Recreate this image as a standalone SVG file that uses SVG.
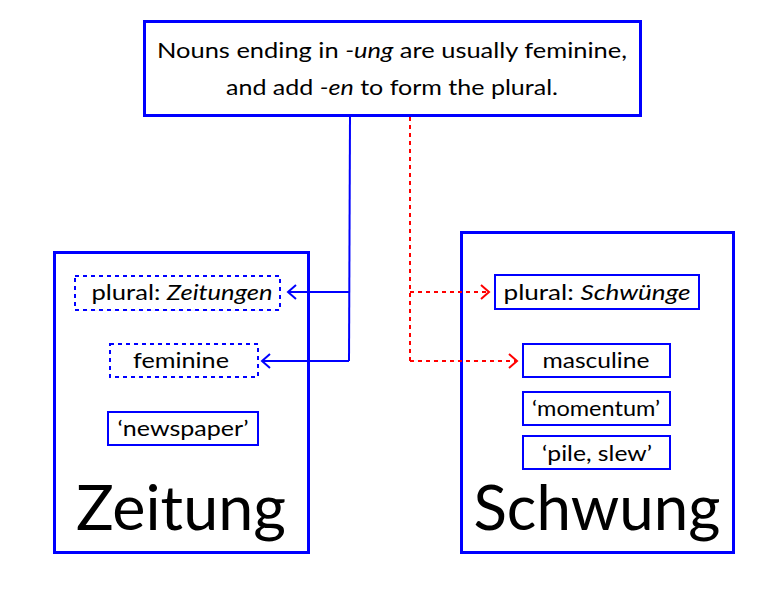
<svg xmlns="http://www.w3.org/2000/svg" width="772" height="605" viewBox="0 0 772 605">
<defs>
<style>
text{font-family:"Lato","Noto Sans",sans-serif;fill:#000;text-anchor:middle}
.big{stroke:#0000ff;stroke-width:3;fill:none}
.lab{stroke:#0000ff;stroke-width:2;fill:#fff}
.dash{stroke:#0000ff;stroke-width:2;fill:#fff;stroke-dasharray:4 4}
.s{font-size:22px}
.h{font-size:62px}
.blue{stroke:#0000ff;stroke-width:2;fill:none}
.red{stroke:#ff0000;stroke-width:2;fill:none;stroke-dasharray:4 4}
</style>
<marker id="ab" markerWidth="12" markerHeight="18" refX="10" refY="8" orient="auto" markerUnits="userSpaceOnUse"><path d="M2 1 L10 8 L2 15" fill="none" stroke="#0000ff" stroke-width="2"/></marker>
<marker id="ar" markerWidth="12" markerHeight="18" refX="10" refY="8" orient="auto" markerUnits="userSpaceOnUse"><path d="M2 1 L10 8 L2 15" fill="none" stroke="#ff0000" stroke-width="2"/></marker>
</defs>
<rect width="772" height="605" fill="#fff"/>
<g id="top">
<rect class="big" x="144.5" y="21.5" width="496" height="94" fill="#fff"/>
<text class="s" x="392" y="58" textLength="470" lengthAdjust="spacingAndGlyphs">Nouns ending in <tspan font-style="italic">-ung</tspan> are usually feminine,</text>
<text class="s" x="392" y="95" textLength="332" lengthAdjust="spacingAndGlyphs">and add <tspan font-style="italic">-en</tspan> to form the plural.</text>
</g>
<g id="zeitung">
<rect class="big" x="54.5" y="252.5" width="254" height="300"/>
<text class="h" x="181" y="530" textLength="210" lengthAdjust="spacingAndGlyphs">Zeitung</text>
</g>
<g id="schwung">
<rect class="big" x="461.5" y="232.5" width="272" height="320"/>
<text class="h" x="597" y="530" textLength="247" lengthAdjust="spacingAndGlyphs">Schwung</text>
</g>
<g id="connectors">
<path class="blue" d="M350 117 L349 361"/>
<path class="blue" d="M349 292 L288 292" marker-end="url(#ab)"/>
<path class="blue" d="M349 361 L262 361" marker-end="url(#ab)"/>
<path class="red" d="M410 117 L410 361"/>
<path class="red" d="M410 292 L489 292" marker-end="url(#ar)"/>
<path class="red" d="M410 361 L517 361" marker-end="url(#ar)"/>
</g>
<g id="zeitung-plural">
<rect class="dash" x="75" y="276" width="205" height="34"/>
<text class="s" x="182" y="300" textLength="181" lengthAdjust="spacingAndGlyphs">plural: <tspan font-style="italic">Zeitungen</tspan></text>
</g>
<g id="zeitung-gender">
<rect class="dash" x="110" y="344" width="148" height="33"/>
<text class="s" x="181" y="368" textLength="96" lengthAdjust="spacingAndGlyphs">feminine</text>
</g>
<g id="zeitung-meaning">
<rect class="lab" x="108" y="412" width="150" height="33"/>
<text class="s" x="183" y="436" textLength="131" lengthAdjust="spacingAndGlyphs">‘newspaper’</text>
</g>
<g id="schwung-plural">
<rect class="lab" x="495" y="275" width="204" height="34"/>
<text class="s" x="597" y="300" textLength="187" lengthAdjust="spacingAndGlyphs">plural: <tspan font-style="italic">Schwünge</tspan></text>
</g>
<g id="schwung-gender">
<rect class="lab" x="523" y="344" width="147" height="33"/>
<text class="s" x="596" y="368" textLength="107" lengthAdjust="spacingAndGlyphs">masculine</text>
</g>
<g id="schwung-meaning1">
<rect class="lab" x="523" y="392" width="147" height="33"/>
<text class="s" x="596" y="416" textLength="128" lengthAdjust="spacingAndGlyphs">‘momentum’</text>
</g>
<g id="schwung-meaning2">
<rect class="lab" x="523" y="436" width="147" height="33"/>
<text class="s" x="597" y="461" textLength="110" lengthAdjust="spacingAndGlyphs">‘pile, slew’</text>
</g>
</svg>
